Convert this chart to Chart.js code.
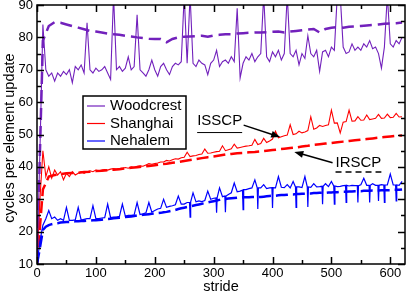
<!DOCTYPE html>
<html>
<head>
<meta charset="utf-8">
<script src="https://cdn.jsdelivr.net/npm/chart.js@4"></script>
<style>
html, body { margin: 0; padding: 0; background: #fff; }
canvas { display: block; }
</style>
</head>
<body>
<canvas id="myChart" width="407" height="294"></canvas>
<script>
const FONT = '"Liberation Sans", Arial, sans-serif';

// stride positions (fine and coarse)
const strides5 = [0,5,10,15,20,25,30,35,40,45,50,55,60,65,70,75,80,85,90,95,
    100,105,110,115,120,125,130,135,140,145,150,155,160,165,170,175,180,185,190,195,
    200,205,210,215,220,225,230,235,240,245,250,255,260,265,270,275,280,285,290,295,
    300,305,310,315,320,325,330,335,340,345,350,355,360,365,370,375,380,385,390,395,
    400,405,410,415,420,425,430,435,440,445,450,455,460,465,470,475,480,485,490,495,
    500,505,510,515,520,525,530,535,540,545,550,555,560,565,570,575,580,585,590,595,
    600,605,610,615,620];
const strides10 = [0,10,20,30,40,50,60,70,80,90,100,110,120,130,140,150,160,170,180,190,
    200,210,220,230,240,250,260,270,280,290,300,310,320,330,340,350,360,370,380,390,
    400,410,420,430,440,450,460,470,480,490,500,510,520,530,540,550,560,570,580,590,
    600,610,620];
// Nehalem measurement has narrow downward glitches, so it keeps its own strides
const nehalemStrides = [0,5,10,15,20,25,30,35,40,45,50,55,60,65,70,75,80,85,90,95,
    100,105,110,115,120,125,130,135,140,145,150,155,160,165,170,175,180,185,190,195,
    200,205,210,215,220,225,230,235,240,245,250,255,
    259,260,261,265,270,275,280,285,290,295,
    300,304,305,306,310,315,319,320,321,325,330,335,340,345,
    349,350,351,355,360,365,370,374,375,376,380,385,390,395,
    399,400,401,405,410,415,420,425,430,435,439,440,441,445,
    450,455,459,460,461,465,470,475,480,484,485,486,490,495,
    500,504,505,506,510,515,520,524,525,526,530,535,540,544,545,546,
    550,555,560,564,565,566,570,575,579,580,581,585,589,590,591,595,
    600,605,609,610,611,615,620];

const labels = ['Woodcrest', 'Shanghai', 'Nehalem'];
const xTicks = [0, 100, 200, 300, 400, 500, 600];
const yTicks = [10, 20, 30, 40, 50, 60, 70, 80, 90];

// measured (solid lines)
const woodcrest = [10,45,84,70,68,69,66.5,69,68,69.5,
    68.5,70,66,71,70,71.5,69,84.5,70,69,
    70.5,69.5,70,71,69,67,93,70,71,69.5,
    70.5,74,70,71,87,70,69,68,70,73,
    70,68,71,72,70,68.5,71,72,71.5,72.5,
    93,72,93,72,71,73,72,71.5,68.5,72,
    73,76,71,72.5,73,72,74,72.5,89,67.5,
    72,74,73,75,72.5,74,75,93,74,72.5,
    75.5,74,76,73,75,93,75,74,76,71.5,
    75,73.5,80.5,75,74,76,69.5,75.5,76,74,
    77,76,93,93,77,75,75.5,78,76,77,
    76,78,77,79,76.5,77,75,70.5,77,93,
    78,77,79,78,80];
const shanghai = [11,30,45,37,40,36.5,39,37.5,38.5,36,
    38,37,38.5,37.5,38,38.5,38,38.5,38.8,38.5,
    39,38.8,39,39.2,39,39.3,39.5,39.3,39.5,39.6,
    39.8,39.6,40,39.8,40.2,40.3,40.2,40.6,41,40.8,
    41,41.2,41.5,41.5,42,41.8,42.2,42.5,42.4,42.8,
    43,44.5,43.2,43.4,43.5,43.8,44,45.5,44.2,44.3,
    44.5,44.7,44.8,46.5,45,45.3,45.6,47,45.8,46,
    46.2,46.4,46.5,46.7,48.5,46.9,47.2,48.8,47.5,48,
    48.6,51,49,49.3,49.6,49.8,53,50,50.2,51,
    50.5,50.8,51.2,55.5,51.6,52,52.8,52.5,52.8,53,
    57.5,53.5,53.6,50.5,53.8,54,57.5,54.1,54.2,55.5,
    54.4,54.5,56,54.6,54.8,55,56.2,55,55.1,56.3,
    55.2,55.3,56.5,55.4,55.5];
const nehalem = [10,17,22,24,26.5,24,24.5,23.5,24,23.5,
    27.5,23.5,23.5,23.6,27.5,23.6,23.8,24,24,28,
    24,24,24.2,24.3,28.5,24.3,24.5,24.5,24.7,28.5,
    24.8,25,25,25.2,29,25.3,25.5,25.8,29,26,
    26.5,27,27.2,30,27.5,27.8,28,28.3,31,28.5,
    28.5,29,
    29,24.5,29.2,32,29.2,29.5,29.3,29.6,32.5,30,
    30.3,30.4,25.8,30.5,33.5,30.8,31,26,31,31.5,32,35,32.3,32.5,
    32.8,26.8,33,33,33.3,33.5,36,33.5,27,33.5,33.5,34.5,33.3,33.5,
    33.6,27.3,33.6,33.5,37,33.7,33.6,34.5,33.5,35.5,33.8,27.5,33.8,33.8,
    33.6,37,33.8,27.6,33.8,33.7,34.8,33.8,33.9,34,28.5,34,34.8,33.9,
    35.5,34.1,28.5,34.1,33.9,34,34.2,34.3,29,34.3,34.1,34.3,34.2,34.2,29,34.2,
    34.5,36.5,34.3,34.3,29,34.3,34.8,34.3,34.3,29.5,34.3,34.5,34.4,29,34.4,34.4,
    37.8,34.4,34.4,29.5,34.4,34.3,35.5];

// model (dashed lines)
const woodcrestModel = [10,79,83.5,84.7,84.5,84,83.5,83,82.5,82,
    81.8,81.5,81.2,81,80.8,80.5,80.3,80,79.8,79.6,
    79.5,79.5,78.5,79.5,80,80.2,80.3,80.4,80.5,80.2,
    80.6,80.8,81,81,81.2,81.3,81.4,81.5,81.5,81.6,
    81.7,81.8,81.5,81.8,82,82.2,82.4,82.6,81.5,82.6,
    83,83.2,83,83.3,83.4,83.5,83.7,83.8,84,84.2,
    84.3,84.4,84.6];
const shanghaiModel = [10,33,37,37.5,37.8,38,38.1,38.2,38.4,38.5,
    38.7,38.8,39,39.1,39.3,39.5,39.7,39.9,40.1,40.3,
    40.5,40.8,41,41.3,41.5,41.8,42.1,42.4,42.7,43,
    43.2,43.5,43.8,44,44.2,44.3,44.5,44.6,44.8,45,
    45.2,45.4,45.6,45.8,46,46.3,46.5,46.8,47,47.2,
    47.4,47.6,47.8,48,48.2,48.4,48.6,48.8,49,49.2,
    49.4,49.6,49.7];
const nehalemModel = [10,15,20.5,21.5,22,22.3,22.5,22.6,22.8,22.9,
    23,23,23.1,23.2,23.2,23.3,23.3,23.4,23.4,23.5,
    23.5,23.6,23.7,23.8,23.9,24,24.1,24.2,24.3,24.4,
    24.5,24.6,24.7,24.8,25,25.1,25.2,25.3,25.4,25.5,
    25.6,25.7,25.8,26,26.1,26.3,26.5,26.7,27,27.2,
    27.4,27.6,27.8,28,28.2,28.4,28.6,28.8,29,29.2,
    29.4,29.6,29.8,30,30.1,30.2,30.3,30.4,30.5,30.5,
    30.6,30.6,30.6,30.7,30.7,30.7,30.7,30.8,30.9,31,
    31.1,31.1,31.2,31.3,31.3,31.4,31.5,31.5,31.6,31.6,
    31.7,31.7,31.8,31.8,31.9,31.9,32,32,32,32.1,
    32.1,32.2,32.2,32.3,32.3,32.3,32.4,32.4,32.5,32.5,
    32.5,32.6,32.6,32.6,32.7,32.7,32.7,32.8,32.8,32.8,
    32.8,32.9,32.9,32.9,33];

const colors = ['#7221bc', '#ff0000', '#0000ff'];

function pts(xs, ys) {
    return xs.map((x, i) => ({ x: x, y: ys[i] }));
}

function drawArrow(ctx, x1, y1, x2, y2) {
    const ang = Math.atan2(y2 - y1, x2 - x1);
    ctx.beginPath();
    ctx.moveTo(x1, y1);
    ctx.lineTo(x2 - 6 * Math.cos(ang), y2 - 6 * Math.sin(ang));
    ctx.stroke();
    ctx.beginPath();
    ctx.moveTo(x2, y2);
    ctx.lineTo(x2 - 9 * Math.cos(ang) + 3.5 * Math.sin(ang), y2 - 9 * Math.sin(ang) - 3.5 * Math.cos(ang));
    ctx.lineTo(x2 - 9 * Math.cos(ang) - 3.5 * Math.sin(ang), y2 - 9 * Math.sin(ang) + 3.5 * Math.cos(ang));
    ctx.closePath();
    ctx.fill();
}

// frame, inward ticks, tick labels, titles, legend box and the two notes
const decor = {
    id: 'decor',
    afterDraw(chart) {
        const { ctx, chartArea: a, scales } = chart;
        const xs = scales.x, ys = scales.y;
        ctx.save();
        ctx.strokeStyle = '#000';
        ctx.fillStyle = '#000';
        ctx.lineWidth = 1.5;
        ctx.strokeRect(a.left, a.top, a.right - a.left, a.bottom - a.top);

        ctx.beginPath();
        for (let v = 0; v <= 625; v += 50) {
            const px = Math.round(xs.getPixelForValue(v)) + 0.5;
            const len = v % 100 === 0 ? 7 : 4;
            ctx.moveTo(px, a.bottom); ctx.lineTo(px, a.bottom - len);
            ctx.moveTo(px, a.top); ctx.lineTo(px, a.top + len);
        }
        for (let v = 10; v <= 90; v += 5) {
            const py = Math.round(ys.getPixelForValue(v)) + 0.5;
            const len = v % 10 === 0 ? 7 : 4;
            ctx.moveTo(a.left, py); ctx.lineTo(a.left + len, py);
            ctx.moveTo(a.right, py); ctx.lineTo(a.right - len, py);
        }
        ctx.stroke();

        ctx.font = '13px ' + FONT;
        ctx.textBaseline = 'middle';
        ctx.textAlign = 'center';
        xTicks.forEach(v => ctx.fillText(String(v), xs.getPixelForValue(v), a.bottom + 9));
        ctx.textAlign = 'right';
        yTicks.forEach(v => ctx.fillText(String(v), a.left - 4, ys.getPixelForValue(v)));

        ctx.font = '14.5px ' + FONT;
        ctx.textAlign = 'center';
        ctx.fillText('stride', (a.left + a.right) / 2, 287);
        ctx.save();
        ctx.translate(10, 138);
        ctx.rotate(-Math.PI / 2);
        ctx.fillText('cycles per element update', 0, 0);
        ctx.restore();

        // legend
        const bx = a.left + 46, by = a.top + 91, bw = 103, bh = 53;
        ctx.fillStyle = '#fff';
        ctx.fillRect(bx, by, bw, bh);
        ctx.lineWidth = 1.5;
        ctx.strokeRect(bx, by, bw, bh);
        ctx.font = '15px ' + FONT;
        ctx.textAlign = 'left';
        const rows = [10, 27.5, 45];
        labels.forEach((name, i) => {
            const ry = by + rows[i];
            ctx.strokeStyle = colors[i];
            ctx.lineWidth = 1.2;
            ctx.beginPath();
            ctx.moveTo(bx + 4, ry); ctx.lineTo(bx + 22, ry);
            ctx.stroke();
            ctx.fillStyle = '#000';
            ctx.fillText(name, bx + 27, ry);
        });

        // notes
        ctx.strokeStyle = '#000';
        ctx.fillStyle = '#000';
        ctx.font = '15px ' + FONT;
        const t1x = xs.getPixelForValue(272), t1y = ys.getPixelForValue(54.1);
        const w1 = ctx.measureText('ISSCP').width;
        ctx.fillText('ISSCP', t1x, t1y);
        ctx.lineWidth = 1;
        ctx.beginPath();
        ctx.moveTo(t1x, ys.getPixelForValue(50.6)); ctx.lineTo(t1x + w1, ys.getPixelForValue(50.6));
        ctx.stroke();
        ctx.lineWidth = 1.5;
        drawArrow(ctx, xs.getPixelForValue(351), ys.getPixelForValue(52.9),
            xs.getPixelForValue(413), ys.getPixelForValue(49.2));

        const t2x = xs.getPixelForValue(507), t2y = ys.getPixelForValue(41.3);
        const w2 = ctx.measureText('IRSCP').width;
        ctx.fillText('IRSCP', t2x, t2y);
        ctx.lineWidth = 1.5;
        ctx.setLineDash([6, 4]);
        ctx.beginPath();
        ctx.moveTo(t2x, ys.getPixelForValue(38.4)); ctx.lineTo(t2x + w2, ys.getPixelForValue(38.4));
        ctx.stroke();
        ctx.setLineDash([]);
        drawArrow(ctx, xs.getPixelForValue(502), ys.getPixelForValue(41.3),
            xs.getPixelForValue(437), ys.getPixelForValue(44.6));
        ctx.restore();
    }
};

const ctx = document.getElementById('myChart').getContext('2d');
new Chart(ctx, {
    type: 'line',
    data: {
        datasets: [
            { label: labels[0], data: pts(strides5, woodcrest), borderColor: colors[0], borderWidth: 1.1 },
            { label: labels[1], data: pts(strides5, shanghai), borderColor: colors[1], borderWidth: 1.1 },
            { label: labels[2] + ' model', data: pts(strides5, nehalemModel), borderColor: colors[2], borderWidth: 2.5, borderDash: [12, 5] },
            { label: labels[2], data: pts(nehalemStrides, nehalem), borderColor: colors[2], borderWidth: 1.2 },
            { label: labels[0] + ' model', data: pts(strides10, woodcrestModel), borderColor: colors[0], borderWidth: 2.5, borderDash: [12, 6] },
            { label: labels[1] + ' model', data: pts(strides10, shanghaiModel), borderColor: colors[1], borderWidth: 2.5, borderDash: [12, 5] }
        ]
    },
    options: {
        responsive: false,
        animation: false,
        devicePixelRatio: 1,
        layout: { padding: { top: 5, right: 2, left: 0, bottom: 0 } },
        elements: { point: { radius: 0 }, line: { tension: 0 } },
        plugins: { legend: { display: false }, tooltip: { enabled: false } },
        scales: {
            x: {
                type: 'linear', min: 0, max: 625,
                grid: { display: false }, border: { display: false },
                ticks: { display: false },
                afterFit(s) { s.height = 30; }
            },
            y: {
                min: 10, max: 90,
                grid: { display: false }, border: { display: false },
                ticks: { display: false },
                afterFit(s) { s.width = 37; }
            }
        }
    },
    plugins: [decor]
});
</script>
</body>
</html>
